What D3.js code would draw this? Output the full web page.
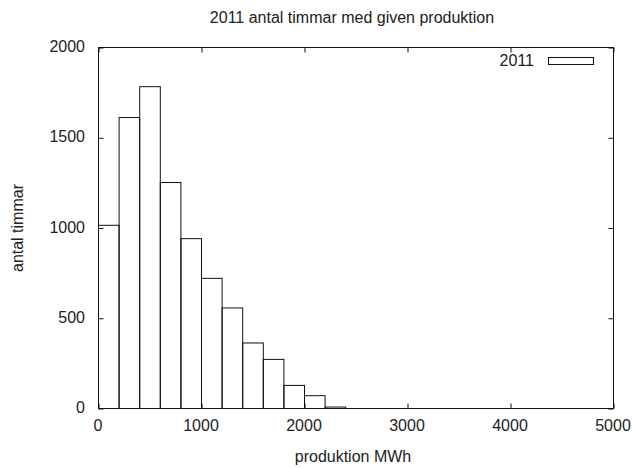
<!DOCTYPE html>
<html>
<head>
<meta charset="utf-8">
<script src="https://cdn.jsdelivr.net/npm/d3@7"></script>
<style>
  html, body { margin: 0; padding: 0; background: #fff; }
  svg text { font-family: "Liberation Sans", Arial, sans-serif; fill: #222; }
</style>
</head>
<body>
<svg id="chart" width="632" height="469"></svg>
<script>
// Histogram bins: lower edge of each 200 MWh bin and hours counted in it
const binStart = [0, 200, 400, 600, 800, 1000, 1200, 1400, 1600, 1800, 2000, 2200];
const binWidth = 200;
const hours = [1015, 1612, 1783, 1252, 941, 721, 557, 363, 272, 128, 71, 8];
const xTicks = [0, 1000, 2000, 3000, 4000, 5000];
const yTicks = [0, 500, 1000, 1500, 2000];
const seriesName = "2011";
const titleText = "2011 antal timmar med given produktion";
const xLabel = "produktion MWh";
const yLabel = "antal timmar";

const svg = d3.select("#chart");
const plotLeft = 98, plotRight = 613, plotTop = 47, plotBottom = 408;

const x = d3.scaleLinear().domain([0, 5000]).range([plotLeft, plotRight]);
const y = d3.scaleLinear().domain([0, 2000]).range([plotBottom, plotTop]);

const lineColor = "#111";
const tickLen = 5;
const fontSize = 16;

// Bars
svg.append("g").selectAll("rect")
  .data(binStart.map((s, i) => ({ s, v: hours[i] })))
  .join("rect")
  .attr("x", d => x(d.s) + 0.5)
  .attr("y", d => y(d.v) + 0.5)
  .attr("width", d => x(d.s + binWidth) - x(d.s))
  .attr("height", d => y(0) - y(d.v))
  .attr("fill", "none")
  .attr("stroke", lineColor)
  .attr("stroke-width", 1);

// Axes: ticks pointing inward, mirrored on the opposite side
const axBottom = d3.axisTop(x).tickValues(xTicks).tickSize(tickLen).tickFormat("");
const axTop = d3.axisBottom(x).tickValues(xTicks).tickSize(tickLen).tickFormat("");
const axLeft = d3.axisRight(y).tickValues(yTicks).tickSize(tickLen).tickFormat("");
const axRight = d3.axisLeft(y).tickValues(yTicks).tickSize(tickLen).tickFormat("");

function styleAxis(g) {
  g.select(".domain").remove();
  g.selectAll("line").attr("stroke", lineColor);
}
svg.append("g").attr("transform", `translate(0.5,${plotBottom + 0.5})`).call(axBottom).call(styleAxis);
svg.append("g").attr("transform", `translate(0.5,${plotTop + 0.5})`).call(axTop).call(styleAxis);
svg.append("g").attr("transform", `translate(${plotLeft + 0.5},0.5)`).call(axLeft).call(styleAxis);
svg.append("g").attr("transform", `translate(${plotRight + 0.5},0.5)`).call(axRight).call(styleAxis);

// Plot border
svg.append("rect")
  .attr("x", plotLeft + 0.5).attr("y", plotTop + 0.5)
  .attr("width", plotRight - plotLeft).attr("height", plotBottom - plotTop)
  .attr("fill", "none").attr("stroke", lineColor);

// Tick labels
svg.append("g").selectAll("text").data(xTicks).join("text")
  .attr("x", d => x(d)).attr("y", 431)
  .attr("text-anchor", "middle").attr("font-size", fontSize)
  .text(d => d);
svg.append("g").selectAll("text").data(yTicks).join("text")
  .attr("x", 85).attr("y", d => y(d) + 5)
  .attr("text-anchor", "end").attr("font-size", fontSize)
  .text(d => d);

// Titles
svg.append("text").attr("x", 352).attr("y", 23)
  .attr("text-anchor", "middle").attr("font-size", fontSize).text(titleText);
svg.append("text").attr("x", 353).attr("y", 462)
  .attr("text-anchor", "middle").attr("font-size", fontSize).text(xLabel);
svg.append("text")
  .attr("transform", "translate(23,228) rotate(-90)")
  .attr("text-anchor", "middle").attr("font-size", fontSize).text(yLabel);

// Legend
svg.append("text").attr("x", 534).attr("y", 66)
  .attr("text-anchor", "end").attr("font-size", fontSize).text(seriesName);
svg.append("rect").attr("x", 548.5).attr("y", 57.5)
  .attr("width", 45).attr("height", 7)
  .attr("fill", "none").attr("stroke", lineColor);
</script>
</body>
</html>
